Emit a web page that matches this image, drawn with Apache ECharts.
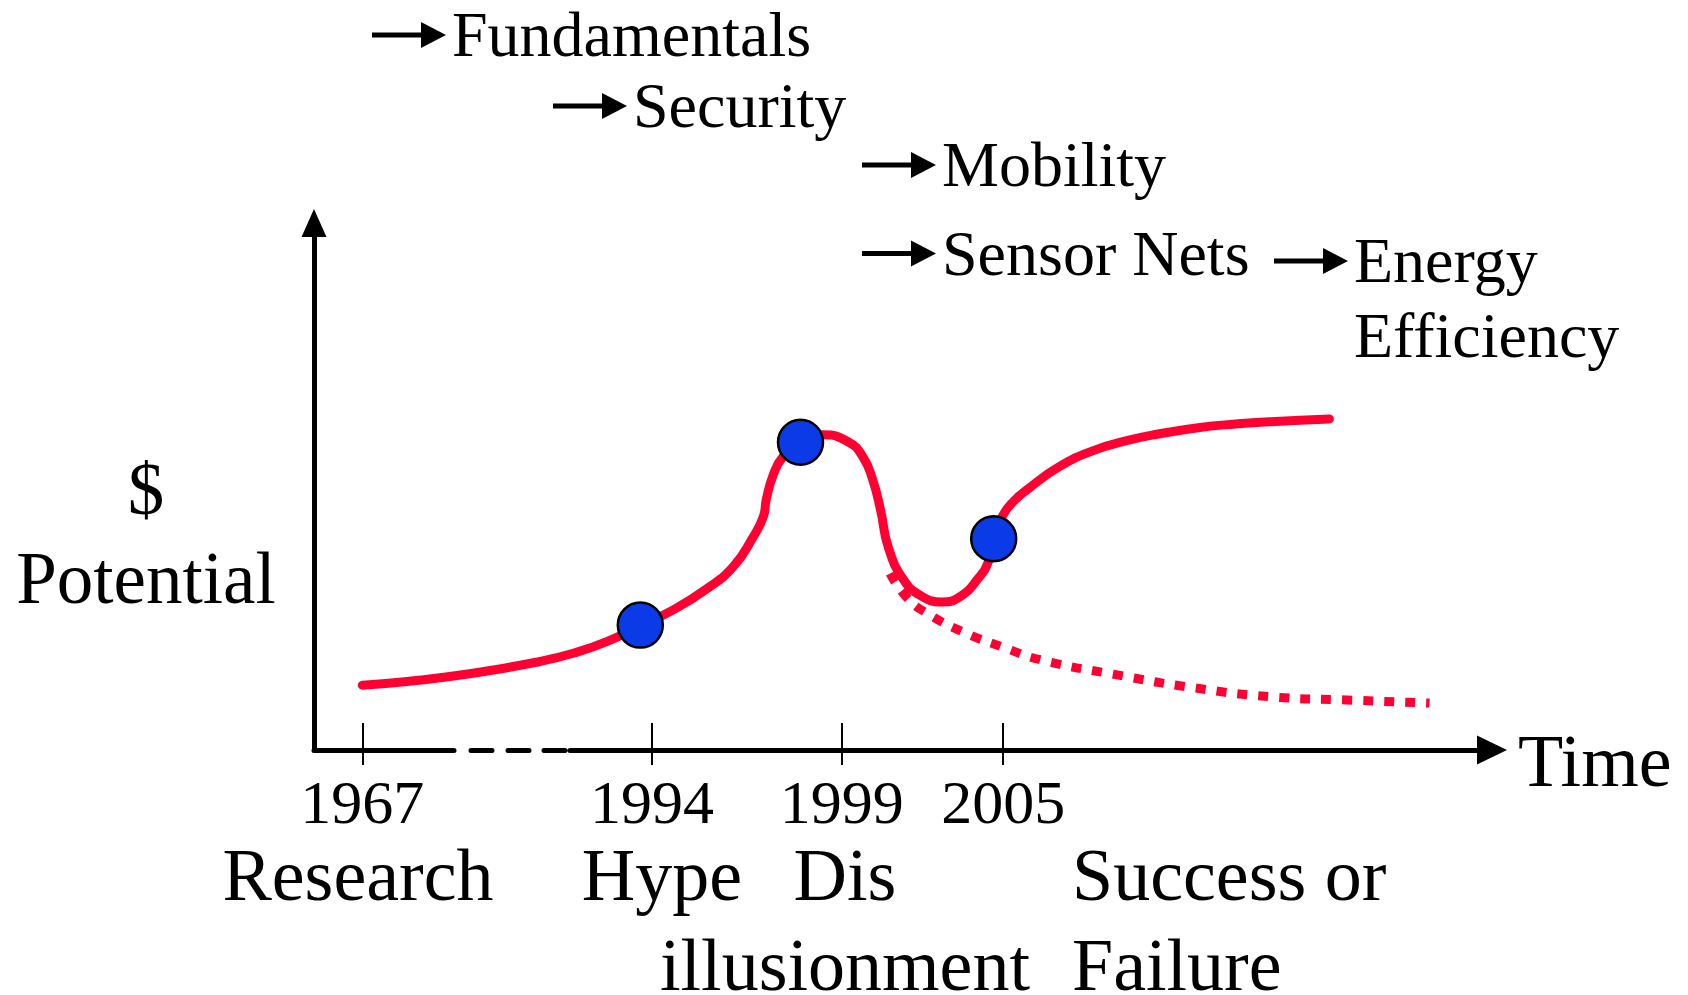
<!DOCTYPE html>
<html><head><meta charset="utf-8">
<script src="https://cdn.jsdelivr.net/npm/echarts@6/dist/echarts.min.js"></script>
<style>html,body{margin:0;padding:0;background:#fff}#c{width:1688px;height:995px}</style>
</head><body><div id="c"></div>
<script>
// ---- data ----
const years = ['1967', '1994', '1999', '2005'];
const yearTicks = [4.1, 28.7, 44.8, 58.5];
const stages = ['Research', 'Hype', 'Dis\nillusionment', 'Success or\nFailure'];
const topics = ['Fundamentals', 'Security', 'Mobility', 'Sensor Nets', 'Energy\nEfficiency'];
const yTitle = '$\nPotential';
const xTitle = 'Time';
const successCurve = [
  [4.1, 12.3], [7.9, 13.0], [13.5, 14.55], [19.2, 16.8], [22.0, 18.35], [24.85, 20.55],
  [27.7, 23.6], [30.5, 26.6], [33.35, 30.6], [35.6, 34.8], [37.3, 40.5], [38.15, 44.3],
  [38.4, 47.6], [39.0, 52.3], [39.8, 55.6], [41.3, 58.4], [43.2, 59.8],
  [45.4, 58.4], [46.6, 55.6], [47.4, 51.5], [48.1, 45.5], [48.75, 38.5], [50.05, 32.3],
  [51.5, 29.3], [53.3, 28.1], [54.85, 29.1], [56.4, 32.6], [57.24, 35.7], [57.7, 40.1],
  [58.5, 44.6], [59.4, 47.2], [60.6, 49.5], [63.3, 53.8], [66.15, 56.8], [69.0, 58.7], [71.8, 60.0],
  [75.2, 61.2], [78.2, 61.85], [81.2, 62.3], [86.2, 62.8]
];
const failureCurve = [
  [48.9, 33.5], [50.3, 29.0], [52.0, 26.0], [55.3, 22.2], [58.5, 19.5], [61.7, 17.1],
  [68.3, 14.2], [74.7, 11.8], [81.2, 10.1], [87.7, 9.5], [94.7, 8.9]
];
const milestones = [[27.7, 23.7], [41.3, 58.4], [57.7, 40.1]];

// ---- layout ----
const FONT = '"Liberation Serif", "Times New Roman", serif';
const RED = '#ff0033';
const topicPos = [[452, 56], [633, 127], [942, 186], [942, 274.5], [1354, 282]];
const stagePos = [[358, 900, 'center'], [662, 900, 'center'], [845, 900, 'center'], [1072, 900, 'left']];

function midY(baseline, fs) { return baseline - 0.26 * fs; }

const graphics = [];
topics.forEach((t, i) => {
  const [x, b] = topicPos[i];
  const fs = 64, lh = 75;
  const ym = midY(b, fs);
  graphics.push({
    type: 'text', x: x, y: ym - lh / 2,
    style: { text: t, font: fs + 'px ' + FONT, fill: '#000', align: 'left', verticalAlign: 'top', lineHeight: lh }
  });
  const ay = b - 21;
  graphics.push({ type: 'line', shape: { x1: x - 80, y1: ay, x2: x - 28, y2: ay }, style: { stroke: '#000', lineWidth: 5 } });
  graphics.push({ type: 'polygon', shape: { points: [[x - 31, ay - 13], [x - 6, ay], [x - 31, ay + 13]] }, style: { fill: '#000' } });
});
stages.forEach((s, i) => {
  const [x, b, al] = stagePos[i];
  const fs = 74, lh = 90;
  graphics.push({
    type: 'text', x: x, y: midY(b, fs) - lh / 2,
    style: { text: s, font: fs + 'px ' + FONT, fill: '#000', align: al, verticalAlign: 'top', lineHeight: lh }
  });
});
graphics.push({
  type: 'text', x: 146, y: midY(513, 73) - 44,
  style: { text: yTitle, font: '73px ' + FONT, fill: '#000', align: 'center', verticalAlign: 'top', lineHeight: 89 }
});
graphics.push({
  type: 'text', x: 1518, y: midY(786, 74),
  style: { text: xTitle, font: '74px ' + FONT, fill: '#000', align: 'left', verticalAlign: 'middle' }
});

const chart = echarts.init(document.getElementById('c'), null, { renderer: 'canvas' });
chart.setOption({
  animation: false,
  backgroundColor: '#fff',
  grid: { left: 314, right: 196, top: 223, bottom: 245 },
  xAxis: [{
    type: 'value', min: 0, max: 100,
    axisLine: { show: true, symbol: ['none', 'triangle'], symbolSize: [29, 30],
      lineStyle: { color: '#000', width: 5, type: [140, 17, 21, 16, 21, 15, 21, 5, 3000] } },
    axisTick: { show: true, inside: true, length: 27, customValues: yearTicks, lineStyle: { color: '#000', width: 2 } },
    axisLabel: { show: true, customValues: yearTicks, margin: 26, color: '#000', fontSize: 62, fontFamily: FONT,
      formatter: v => years[yearTicks.indexOf(v)] },
    splitLine: { show: false }
  }, {
    type: 'value', min: 0, max: 100, position: 'bottom',
    axisLine: { show: false },
    axisTick: { show: true, inside: false, length: 15, customValues: yearTicks, lineStyle: { color: '#000', width: 2 } },
    axisLabel: { show: false },
    splitLine: { show: false }
  }],
  yAxis: {
    type: 'value', min: 0, max: 100,
    axisLine: { show: true, symbol: ['none', 'triangle'], symbolSize: [25, 28], lineStyle: { color: '#000', width: 5 } },
    axisTick: { show: false }, axisLabel: { show: false }, splitLine: { show: false }
  },
  series: [{
    type: 'line', data: failureCurve, smooth: 0.5, showSymbol: false, z: 2,
    lineStyle: { color: RED, width: 9, type: [10, 11], cap: 'butt' }
  }, {
    type: 'line', data: successCurve, smooth: 0.5, showSymbol: false, z: 3,
    lineStyle: { color: RED, width: 9, cap: 'round', join: 'round' }
  }, {
    type: 'scatter', data: milestones, symbol: 'circle', symbolSize: 45, z: 4,
    itemStyle: { color: '#0a3be6', borderColor: '#000', borderWidth: 2.5, opacity: 1 }
  }],
  graphic: graphics
});
</script></body></html>
